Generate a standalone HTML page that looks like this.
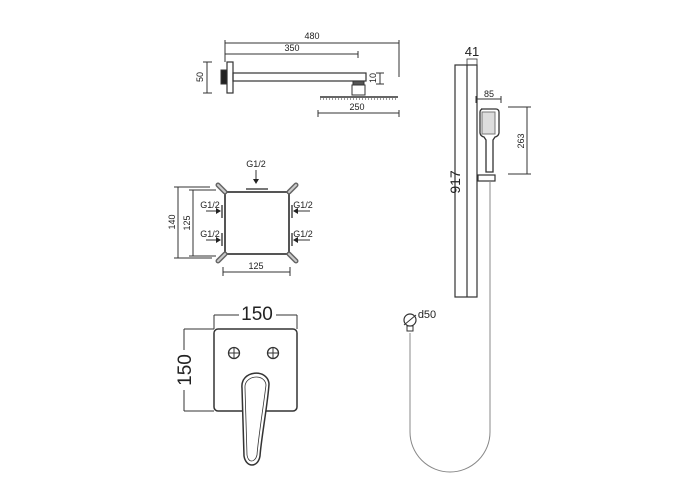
<!DOCTYPE html>
<html><head><style>html,body{margin:0;padding:0;background:#fff}svg{display:block}</style></head><body>
<svg width="700" height="500" viewBox="0 0 700 500" xmlns="http://www.w3.org/2000/svg" font-family="Liberation Sans, sans-serif">
<g stroke="#333" fill="none" stroke-width="1">
<line x1="225" y1="43" x2="399" y2="43"/><line x1="399" y1="40" x2="399" y2="77"/><line x1="225" y1="40" x2="225" y2="62"/>
<line x1="225" y1="54" x2="358" y2="54"/><line x1="358" y1="51" x2="358" y2="58"/>
<line x1="207" y1="62" x2="207" y2="93"/><line x1="203" y1="62" x2="212" y2="62"/><line x1="203" y1="93" x2="212" y2="93"/>
<line x1="318" y1="113" x2="399" y2="113"/><line x1="318" y1="110" x2="318" y2="117"/><line x1="399" y1="110" x2="399" y2="117"/>
<line x1="380" y1="73" x2="380" y2="84"/><line x1="376" y1="73" x2="384" y2="73"/><line x1="376" y1="84" x2="384" y2="84"/>
<rect x="227" y="62" width="6" height="31" stroke-width="1.2"/>
<rect x="221" y="70" width="6" height="14" fill="#222"/>
<rect x="233" y="73" width="133" height="8" stroke-width="1.2"/>
<rect x="353" y="81" width="11" height="4" fill="#555"/>
<rect x="352" y="85" width="13" height="10"/>
<line x1="320" y1="97" x2="398" y2="97" stroke-width="1.5"/>
<line x1="320" y1="99" x2="398" y2="99" stroke-dasharray="1 2"/>
<rect x="225" y="192" width="64" height="62" stroke-width="2" stroke="#555"/>
<line x1="246" y1="189" x2="268" y2="189" stroke-width="2" stroke="#777"/>
<line x1="222" y1="205" x2="222" y2="218" stroke-width="2" stroke="#777"/><line x1="222" y1="233" x2="222" y2="246" stroke-width="2" stroke="#777"/>
<line x1="292" y1="205" x2="292" y2="218" stroke-width="2" stroke="#777"/><line x1="292" y1="233" x2="292" y2="246" stroke-width="2" stroke="#777"/>
<g stroke="#666" stroke-width="5" stroke-linecap="round">
<line x1="225" y1="192" x2="218" y2="185"/><line x1="289" y1="192" x2="296" y2="185"/>
<line x1="225" y1="254" x2="218" y2="261"/><line x1="289" y1="254" x2="296" y2="261"/></g>
<g stroke="#ccc" stroke-width="2" stroke-linecap="round">
<line x1="225" y1="192" x2="218" y2="185"/><line x1="289" y1="192" x2="296" y2="185"/>
<line x1="225" y1="254" x2="218" y2="261"/><line x1="289" y1="254" x2="296" y2="261"/></g>
<line x1="178" y1="187" x2="178" y2="258"/><line x1="174" y1="187" x2="210" y2="187"/><line x1="174" y1="258" x2="212" y2="258"/>
<line x1="193" y1="190" x2="193" y2="256"/><line x1="189" y1="190" x2="216" y2="190"/><line x1="189" y1="256" x2="216" y2="256"/>
<line x1="223" y1="272" x2="290" y2="272"/><line x1="223" y1="267" x2="223" y2="276"/><line x1="290" y1="267" x2="290" y2="276"/>
<line x1="256" y1="170" x2="256" y2="180"/>
<line x1="206" y1="211" x2="216" y2="211"/><line x1="206" y1="240" x2="216" y2="240"/>
<line x1="298" y1="211" x2="310" y2="211"/><line x1="298" y1="240" x2="310" y2="240"/>
<line x1="214" y1="315" x2="239" y2="315"/><line x1="276" y1="315" x2="297" y2="315"/>
<line x1="214" y1="315" x2="214" y2="329"/><line x1="297" y1="315" x2="297" y2="329"/>
<line x1="184" y1="329" x2="184" y2="350"/><line x1="184" y1="390" x2="184" y2="411"/>
<line x1="184" y1="329" x2="214" y2="329"/><line x1="184" y1="411" x2="214" y2="411"/>
<rect x="214" y="329" width="83" height="82" rx="4" stroke-width="1.5" fill="#fff"/>
<circle cx="234" cy="353" r="5.5" stroke-width="1.3"/><path d="M228.5 353h11M234 347.5v11" stroke-width="1"/>
<circle cx="273" cy="353" r="5.5" stroke-width="1.3"/><path d="M267.5 353h11M273 347.5v11" stroke-width="1"/>
<path d="M242 388 C240 370 268 368 269 384 C268 402 261 440 260 456 C258 468 246 468 244 456 Z" stroke-width="1.5" fill="#fff"/>
<path d="M245 388 C244 375 265 373 266 385 C264 402 258 440 257 455 C255 463 248 463 247 455 Z" stroke-width="0.8"/>
<rect x="455" y="65" width="22" height="232" stroke-width="1.2"/>
<line x1="467" y1="65" x2="467" y2="297" stroke-width="1.2"/>
<rect x="467" y="59" width="10" height="6" stroke-width="0.8"/>
<line x1="476" y1="99" x2="501" y2="99"/><line x1="476" y1="96" x2="476" y2="103"/><line x1="501" y1="96" x2="501" y2="103"/>
<line x1="508" y1="107" x2="531" y2="107"/><line x1="508" y1="174" x2="531" y2="174"/><line x1="527" y1="107" x2="527" y2="174"/>
<path d="M481 109 h15 a3 3 0 0 1 3 3 v21 a5 5 0 0 1 -4 4 l-2 3 v32 h-7 v-32 l-2 -3 a5 5 0 0 1 -4 -4 v-21 a3 3 0 0 1 3 -3 Z" stroke-width="1.3" fill="#fff"/>
<rect x="482" y="112" width="13" height="22" fill="#ddd" stroke="#777"/>
<rect x="478" y="175" width="17" height="6" stroke-width="1.2"/>
<path d="M490 181 V432 A40 40 0 0 1 410 432 V333" stroke="#888"/>
<circle cx="410" cy="320" r="6" stroke-width="1.2"/>
<line x1="404" y1="325" x2="416" y2="315"/>
<rect x="407" y="326" width="6" height="5"/>
</g>
<g fill="#222">
<path d="M253 179 L259 179 L256 184 Z"/>
<path d="M216 208 L221 211 L216 214 Z"/><path d="M216 237 L221 240 L216 243 Z"/>
<path d="M298 208 L293 211 L298 214 Z"/><path d="M298 237 L293 240 L298 243 Z"/>
</g>
<g fill="#222" font-size="9" text-anchor="middle">
<text x="312" y="39">480</text><text x="292" y="51">350</text><text x="357" y="110">250</text>
<text transform="translate(203,77) rotate(-90)">50</text>
<text transform="translate(376,78) rotate(-90)">10</text>
<text x="256" y="167">G1/2</text>
<text x="210" y="208">G1/2</text><text x="210" y="237">G1/2</text>
<text x="303" y="208">G1/2</text><text x="303" y="237">G1/2</text>
<text transform="translate(175,222) rotate(-90)">140</text>
<text transform="translate(190,223) rotate(-90)">125</text>
<text x="256" y="269">125</text>
<text x="489" y="97">85</text>
<text transform="translate(524,141) rotate(-90)">263</text>
<text x="427" y="318" font-size="11">d50</text>
<text x="472" y="56" font-size="13">41</text>
<text transform="translate(460,182) rotate(-90)" font-size="14">917</text>
<text x="257" y="320" font-size="19">150</text>
<text transform="translate(191,370) rotate(-90)" font-size="19">150</text>
</g>
</svg>
</body></html>
